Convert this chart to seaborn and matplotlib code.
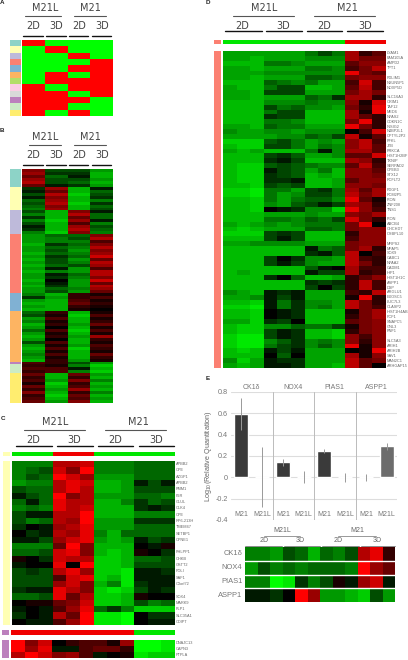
import numpy as np
import pandas as pd
import matplotlib
matplotlib.use('Agg')
import matplotlib.pyplot as plt
import seaborn as sns
from matplotlib.colors import LinearSegmentedColormap, ListedColormap

sns.set_style('white')
plt.rcParams['font.family'] = ['Liberation Sans', 'DejaVu Sans']
plt.rcParams['mathtext.default'] = 'regular'

W, H = 408, 660

# panel A: 1 = red, 0 = green
a_vals = [[1,0,0,0],[0,1,0,0],[0,0,1,0],[0,0,0,1],[0,0,1,1],[0,1,0,1],
          [0,1,1,1],[1,0,1,1],[1,1,0,1],[1,1,1,0],[1,1,0,0],[1,0,1,0]]
a_side = ['#8dd3c7','#ffffb3','#bebada','#fb8072','#80b1d3','#fdb462',
          '#b3de69','#fccde5','#d9d9d9','#bc80bd','#ccebc5','#ffed6f']

# panel B: cluster sizes and rows (tenths of full scale, minus = green)
b_sizes = [6, 8, 8, 20, 6, 17, 1, 3, 10]
b_side = ['#8dd3c7','#ffffb3','#bebada','#fb8072','#80b1d3','#fdb462','#bc80bd','#ccebc5','#ffed6f']
b_vals = [
 [5,-3,-3,-6],[6,-2,-2,-7],[4,-4,-1,-7],[6,-3,-3,-6],[7,-3,-4,-7],[4,-1,-2,-6],
 [-2,6,-7,-1],[-1,4,-7,-4],[-3,7,-8,-3],[-1,5,-7,-2],[-4,6,-7,-5],[-3,7,-8,-2],[-4,5,-7,-4],[-5,6,-7,-3],
 [-3,-7,5,-1],[-5,-7,7,-4],[-2,-7,4,-4],[-5,-8,6,-1],[-3,-7,3,-5],[-1,-7,6,-3],[-2,-7,7,-4],[-5,-8,5,-5],
 [-6,-4,-4,5],[-6,-5,-3,7],[-6,-5,-5,3],[-7,-2,-4,5],[-6,-4,-5,7],[-6,-3,-6,5],[-7,-4,-5,6],[-6,-2,-4,8],
 [-7,-3,-6,4],[-6,-3,-5,7],[-7,-4,-3,6],[-6,-1,-6,3],[-7,-5,-6,7],[-6,-1,-4,7],[-6,-2,-5,5],[-7,0,-6,8],
 [-6,-1,-6,4],[-7,-2,-6,7],[-6,-4,-5,6],[-6,-3,-6,4],
 [-5,-7,2,1],[-2,-6,2,3],[-6,-7,3,1],[-7,-7,4,2],[-6,-7,2,1],[-7,-7,1,0],
 [-4,2,-7,1],[-3,1,-8,3],[-6,3,-7,1],[-5,1,-7,2],[-7,2,-6,4],[-6,0,-7,1],[-4,3,-8,3],[-6,1,-7,1],
 [-7,2,-6,6],[-6,0,-7,2],[-3,3,-7,1],[-6,1,-6,3],[-7,3,-8,2],[-6,1,-7,1],[-5,3,-7,4],[-6,1,-7,2],[-7,2,-6,1],
 [3,2,-3,-6],
 [2,1,-5,-8],[3,3,-1,-7],[2,3,-5,-8],
 [4,-7,4,-6],[2,-7,2,-7],[3,-6,5,-5],[1,-8,2,-7],[4,-7,3,-6],[2,-6,6,-7],[5,-7,2,-5],[2,-8,4,-7],[3,-7,3,-6],[4,-6,5,-7],
]

# panel C
c_labels = ['APBB2','CPE','AZGP1','APBB2','PMM1','F2R','GLUL','CLK4','CPE','RP6-213H','TMEM47',
            'SETBP1','CPNE1','','PHLPP1','CHKB','GSTT2','POLI','SAF1','C3orf72','','SOX4',
            'MARK9','PLP1','SLC35A1','CDIPT']
c_vals = [
 [-5,-5,-5,7,7,8,-5,-5,-5,-4,-4,-4],[-5,-4,-3,8,5,10,-5,-5,-5,-4,-4,-4],
 [-5,-3,-4,10,8,6,-6,-6,-6,-4,-4,-4],[-6,-5,-5,7,9,8,-7,-7,-6,-1,-3,-1],
 [-3,-4,-4,7,9,7,-7,-7,-6,-3,-3,-3],[-1,-3,-4,10,5,7,-6,-6,-6,-4,-4,-5],
 [-4,-1,-4,9,7,7,-7,-7,-5,-2,-4,-3],[-5,-4,-5,9,7,8,-7,-7,-7,-2,-1,-2],
 [-3,-1,-1,7,7,10,-7,-7,-7,-5,-5,-5],[-3,-5,-4,7,6,10,-6,-6,-6,-2,-2,-2],
 [-2,0,-1,6,7,9,-6,-6,-6,-4,-4,-4],[0,-2,-1,7,6,9,-5,-7,-4,-4,-4,-4],
 [-1,-1,-3,6,8,9,-6,-7,-6,-1,-3,-2],[-5,-5,-5,4,10,5,-7,-7,-7,0,-1,1],
 [-4,-4,-3,8,9,5,-7,-8,-7,1,0,-2],[1,0,-2,8,7,7,-8,-8,-7,-4,-4,-3],
 [-1,0,0,9,0,10,-8,-8,-7,-3,-3,-3],[-3,-2,-3,7,9,6,-8,-8,-9,-1,-1,-2],
 [-3,-3,-3,3,8,9,-8,-7,-9,-1,-1,-1],[-3,-3,-3,6,8,5,-7,-5,-9,-2,-1,-1],
 [-2,-1,-1,9,7,5,-8,-9,-8,-3,-1,-2],[-4,-4,-3,9,4,7,-8,-8,-7,1,0,0],
 [0,1,1,4,5,8,-8,-8,-7,-3,-5,-4],[-1,0,-1,3,6,9,-4,-2,-5,-8,-8,-8],
 [-2,0,-1,7,4,10,-9,-9,-10,0,-2,-2],[0,-1,-1,3,6,10,-9,-9,-10,0,-1,-1],
]
c2_labels = ['DNAJC13','CAPN3','PTPLA']
c2_vals = [[10,5,8,0,2,3,3,1,6,-10,-10,-9],
           [10,6,9,-1,-1,3,4,4,2,-10,-10,-9],
           [7,10,8,5,6,3,-1,0,1,-9,-8,-8]]

# panel D: magnitudes, first 9 columns are green, last 3 red
d_labels = ['LYAM1','FAM105A','AMPD2','TPT1','','PDLIM1','NSUN5P1','NOXP5D','','SLC16A3','CRIM1','TAF12',
            'MED6','NPAS2','CDKN1C','INSIG2','N4BP2L1','OPTYL2P2','PFKL','JTB','PRKCA','HIST1H2BF','TXNIP',
            'SERPAD2','CPEB3','STX12','PCFLT2','','PDGF1','PCM2P5','PION','ZNF208','TNS1','','PION','ABCB4',
            'CHCHD7','OSBPL10','','MRPS2','MFAP5','SOX9','CABC1','NPAA2','CADM1','HIP1','HIST1H1C','ASPP1',
            'DSP','ARGLU1','EXOSC5','LUC7L3','CLASP2','HIST1H4AB','FCF1','SNAPC5','GNL3','PNF1','','SLC5A3',
            'ARIH1','ARIH2B','SAV1','MAN2C1','ARHGAP15']
d_vals = [
 [7,7,7,7,7,7,5,3,5,7,2,4],[7,7,8,7,7,7,6,6,6,7,5,5],[8,8,8,5,5,6,7,7,7,4,6,6],[7,7,8,7,7,7,5,5,6,3,5,8],
 [7,7,7,6,6,6,6,6,6,10,5,4],[7,7,8,7,7,7,4,4,5,5,6,6],[8,8,8,4,5,6,5,7,7,3,9,3],[7,8,8,5,3,3,8,8,7,4,8,3],
 [7,7,8,3,3,3,7,7,7,5,7,5],[7,7,8,7,7,7,4,5,2,7,7,2],[8,8,8,6,6,6,5,6,6,6,1,9],[8,8,8,3,5,4,6,6,7,5,2,10],
 [8,8,8,5,3,3,8,8,8,7,1,10],[8,8,8,2,3,3,8,8,8,7,4,2],[8,8,8,5,5,6,8,8,8,5,10,2],[7,7,8,4,5,5,7,7,7,10,5,2],
 [6,7,7,6,6,7,6,6,6,0,3,9],[7,7,7,7,6,6,4,5,3,8,1,4],[9,9,9,4,3,5,7,6,7,6,8,3],[8,9,9,3,3,5,7,5,6,6,8,4],
 [7,8,7,8,8,8,5,1,6,7,7,4],[8,8,8,3,2,4,7,7,6,4,4,9],[8,8,8,2,1,3,8,8,8,7,6,2],[8,9,9,4,3,4,5,6,6,4,8,3],
 [8,9,9,1,3,4,7,5,8,6,6,4],[8,9,9,2,3,4,8,7,8,6,6,5],[8,9,9,2,2,1,8,8,7,4,6,6],[8,8,9,3,4,3,8,8,7,6,6,5],
 [9,9,10,5,5,7,3,2,5,7,4,7],[9,9,10,5,7,6,3,3,5,8,5,7],[8,8,9,5,7,5,4,4,6,10,4,1],
 [8,8,9,6,7,4,3,1,3,7,6,2],[8,8,9,0,1,2,6,6,9,10,6,3],[8,8,8,7,7,7,6,7,7,6,5,7],[8,8,8,5,5,6,4,5,3,9,5,2],
 [7,8,7,6,7,6,5,5,5,5,10,0],[8,9,8,7,7,7,4,4,5,5,6,6],[9,9,9,3,2,3,8,8,8,2,6,6],[8,8,8,3,1,3,8,8,8,3,6,6],
 [7,7,6,6,6,6,7,7,7,5,6,6],[8,8,8,8,8,8,1,5,4,5,7,2],[8,8,8,8,8,8,2,1,4,8,0,3],[8,8,8,3,0,2,6,6,7,8,3,2],
 [8,8,8,3,1,3,6,7,7,8,5,2],[8,8,8,8,8,8,4,1,0,7,3,3],[8,7,8,8,8,8,1,3,3,7,2,3],[8,8,8,2,0,4,8,8,7,2,4,6],
 [8,8,8,8,8,8,2,3,2,2,8,3],[8,8,8,8,8,8,3,0,3,2,8,3],[6,7,8,1,2,1,7,7,7,3,2,8],[7,7,6,1,3,1,7,7,7,1,10,2],
 [8,8,9,1,5,2,6,6,7,8,5,2],[9,9,10,1,5,2,6,5,7,8,5,3],[8,8,9,0,1,2,8,8,8,1,5,7],[8,8,9,0,1,2,8,8,8,2,5,7],
 [7,7,9,2,3,0,8,8,8,4,5,6],[8,9,9,6,6,4,5,5,3,1,5,6],[8,9,9,3,1,2,8,8,9,2,5,6],[9,10,10,3,1,2,8,8,9,6,3,6],
 [9,10,10,6,4,2,6,5,6,6,2,6],[9,10,10,5,3,2,6,4,6,10,1,6],[8,9,8,1,3,1,7,7,7,0,1,10],[8,8,8,0,4,0,7,7,7,7,1,6],
 [6,9,7,1,2,2,7,7,7,8,4,5],[7,8,7,1,1,2,7,7,8,8,4,0],
]

# panel E bars
e_genes = ['CK1δ','NOX4','PIAS1','ASPP1']
e_groups = ['M21','M21L','M21','M21L','M21','M21L','M21','M21L']
e_means = [0.59, 0.0, 0.14, 0.0, 0.25, 0.0, 0.0, 0.29]
e_errs = [0.15, 0.28, 0.035, 0.055, 0.02, 0.04, 0.035, 0.03]
e_colors = ['#3a3a3a']*7 + ['#6c6c6c']

# panel E heat strip
e_rows = ['CK1δ','NOX4','PIAS1','ASPP1']
e_heat = [[-5,-5,-6,-3,-4,-7,-4,-5,-3,7,9,2],
          [-6,-3,-5,-4,-5,-4,-4,-4,-5,10,6,4],
          [-5,-5,-10,-9,-2,-5,-3,1,-1,6,8,-1],
          [-1,-1,-2,0,10,6,-6,-6,-7,-8,-3,-6]]

gr = LinearSegmentedColormap.from_list('gr', ['#00ff00', '#000000', '#ff0000'])
bar_cm = ListedColormap(['#00e600', '#f00000'])

fig = plt.figure(figsize=(W/100, H/100), dpi=100, facecolor='white')


def px_ax(x0, y0, x1, y1):
    return fig.add_axes([x0/W, 1 - y1/H, (x1-x0)/W, (y1-y0)/H])


def heat(vals, box, vmax=10):
    ax = px_ax(*box)
    sns.heatmap(np.array(vals), ax=ax, cmap=gr, vmin=-vmax, vmax=vmax, cbar=False,
                xticklabels=False, yticklabels=False)
    return ax


def flat(values, box, cmap):
    # one colour strip, rows or a single row
    ax = px_ax(*box)
    n = len(cmap.colors)
    sns.heatmap(np.array(values), ax=ax, cmap=cmap, vmin=0, vmax=n-1, cbar=False,
                xticklabels=False, yticklabels=False)


def labels(ax, names, fs=2.8):
    for i, s in enumerate(names):
        ax.text(1.003*ax.get_xlim()[1], i+0.5, s, fontsize=fs, color='#666666', va='center', clip_on=False)


# overlay for headers, in pixel coordinates
ov = fig.add_axes([0, 0, 1, 1], zorder=5)
ov.set_xlim(0, W)
ov.set_ylim(H, 0)
ov.axis('off')


def header(top, sub, thick, y0, thick_dy=28, dj=7):
    for x, a, b, name in top:
        ov.text(x, y0, name, ha='center', va='center', fontsize=dj, color='#444444', family='DejaVu Sans')
        ov.plot([a, b], [y0+7.5]*2, color='#555555', lw=0.8)
    for i, x in enumerate(sub):
        ov.text(x, y0+18, ['2D', '3D'][i % 2], ha='center', va='center', fontsize=dj,
                color='#444444', family='DejaVu Sans')
    for a, b in thick:
        ov.plot([a, b], [y0+thick_dy]*2, color='#111111', lw=1.0)


for t, x, y in [('A', 2, 3), ('B', 2, 131), ('C', 3, 419), ('D', 208, 3), ('E', 208, 378)]:
    ov.text(x, y, t, fontsize=4.5, fontweight='bold', ha='center', va='center', color='#222222')

# A
header([(45, 25, 61, 'M21L'), (90, 74, 106, 'M21')], [33, 56, 79, 102],
       [(23, 43), (46, 66), (69, 88), (92, 111)], 8)
heat(np.array(a_vals)*20-10, (22, 40, 113, 116))
flat(np.arange(12).reshape(-1, 1), (10, 40, 21, 116), ListedColormap(a_side))

# B
header([(45, 29, 61, 'M21L'), (90, 74, 106, 'M21')], [33, 56, 79, 102],
       [(23, 43), (46, 66), (69, 88), (92, 111)], 137)
heat(b_vals, (22, 169, 113, 403), vmax=10)
flat(np.repeat(np.arange(9), b_sizes).reshape(-1, 1), (10, 169, 21, 403), ListedColormap(b_side))

# C
header([(55, 24, 85, 'M21L'), (138, 105, 166, 'M21')], [33, 74, 115, 156],
       [(16, 52), (57, 93), (98, 133), (139, 174)], 422, thick_dy=24)
flat([[0]*3 + [1]*3 + [0]*6], (12, 452, 175, 456), bar_cm)
flat([[0]], (3, 452, 10, 456), ListedColormap(['#ffffb3', '#ffffb3']))
ax = heat(c_vals, (12, 461, 175, 625))
labels(ax, c_labels)
flat([[0]], (3, 461, 10, 625), ListedColormap(['#ffffb3', '#ffffb3']))
flat([[1]*9 + [0]*3], (11, 630, 175, 635), bar_cm)
flat([[0]], (2, 630, 9, 635), ListedColormap(['#bc80bd', '#bc80bd']))
ax = heat(c2_vals, (11, 640, 175, 658))
labels(ax, c2_labels)
flat([[0]], (2, 640, 9, 658), ListedColormap(['#bc80bd', '#bc80bd']))

# D
header([(264, 233, 294, 'M21L'), (347, 314, 375, 'M21')], [242, 283, 324, 365],
       [(225, 262), (266, 302), (307, 342), (347, 383)], 8, thick_dy=23)
flat([[0]*9 + [1]*3], (223, 40, 386, 44), bar_cm)
flat([[0]], (214, 40, 221, 44), ListedColormap(['#fb8072', '#fb8072']))
d_arr = np.array(d_vals)
d_arr[:, :9] *= -1
ax = heat(d_arr, (223, 51, 386, 368), vmax=11)
labels(ax, d_labels)
flat([[0]], (214, 51, 221, 368), ListedColormap(['#fb8072', '#fb8072']))

# E bars
ax = px_ax(231, 392, 397, 520)
df = pd.DataFrame({'pos': list(range(8)), 'mean': e_means})
sns.barplot(data=df, x='pos', y='mean', hue='pos', palette=e_colors, legend=False,
            width=0.68, errorbar=None, ax=ax, zorder=3)
ax.errorbar(df['pos'], df['mean'], yerr=e_errs, fmt='none', ecolor='#999999', elinewidth=0.7, zorder=4)
ax.set_xlim(-0.5, 7.5)
ax.set_ylim(-0.4, 0.8)
ax.set_yticks([-0.4, -0.2, 0, 0.2, 0.4, 0.6, 0.8])
ax.set_yticklabels(['-0.4', '-0.2', '0', '0.2', '0.4', '0.6', '0.8'], fontsize=5.2, color='#777777')
ax.set_xticks([])
ax.set_xlabel('')
ax.set_ylabel('Log$_{10}$(Relative Quantitation)', fontsize=5.2, color='#666666', labelpad=1)
ax.tick_params(axis='y', length=0, pad=2)
ax.grid(axis='y', color='#dddddd', lw=0.8, zorder=0)
for v in [1.5, 3.5, 5.5]:
    ax.axvline(v, color='#bbbbbb', lw=0.7, zorder=1)
for s in ax.spines.values():
    s.set_visible(False)
for i, g in enumerate(e_groups):
    ax.text(i, -0.35, g, ha='center', va='center', fontsize=5, color='#777777')
for i, g in enumerate(e_genes):
    ax.text(2*i+0.5, 0.84, g, ha='center', va='center', fontsize=5, color='#777777', clip_on=False)

# E heat strip
ax = heat(e_heat, (245, 547, 395, 602))
for y in [1, 2, 3]:
    ax.axhline(y, color='white', lw=1)
for i, g in enumerate(e_rows):
    ax.text(-0.2, i+0.5, g, ha='right', va='center', fontsize=5.4, color='#777777', clip_on=False)
for x, a, b, name in [(282, 264, 300, 'M21L'), (357, 338, 376, 'M21')]:
    ov.text(x, 531, name, ha='center', va='center', fontsize=5, color='#666666')
    ov.plot([a, b], [535.5, 535.5], color='#888888', lw=0.6)
for i, x in enumerate([264, 300, 338, 377]):
    ov.text(x, 541, ['2D', '3D'][i % 2], ha='center', va='center', fontsize=5, color='#666666')
for a, b in [(245, 282), (284, 320), (322, 359), (361, 395)]:
    ov.plot([a, b], [545.5, 545.5], color='#777777', lw=0.6)

fig.savefig('out.png', dpi=100)
